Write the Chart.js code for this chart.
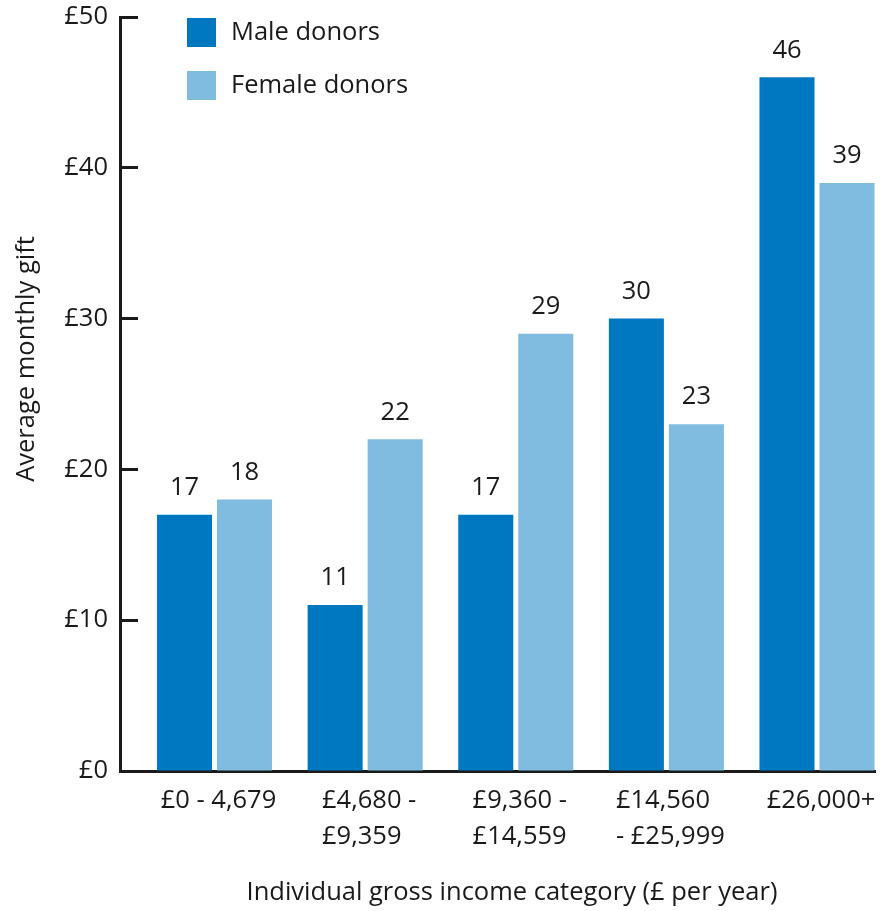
<!DOCTYPE html>
<html>
<head>
<meta charset="utf-8">
<script src="https://cdn.jsdelivr.net/npm/chart.js@4.4.0/dist/chart.umd.min.js"></script>
<style>
  html, body { margin: 0; padding: 0; background: #fff; }
  #wrap { width: 886px; height: 911px; }
</style>
</head>
<body>
<div id="wrap"><canvas id="giftChart"></canvas></div>
<script>
// income bands (one array per tick, one string per line)
const incomeBands = [
    ['£0 - 4,679'],
    ['£4,680 -', '£9,359'],
    ['£9,360 -', '£14,559'],
    ['£14,560', '- £25,999'],
    ['£26,000+']
];
const maleGift = [17, 11, 17, 30, 46];
const femaleGift = [18, 22, 29, 23, 39];
const yTicks = [0, 10, 20, 30, 40, 50];
const seriesNames = ['Male donors', 'Female donors'];
const seriesColors = ['#0078c1', '#80bbe0'];

const FONT = '"Open Sans", sans-serif';
const FONT_SIZE = 25.5;
const INK = '#1a1a1a';

// labels, legend and axis titles are painted by hand
const annotate = {
    id: 'annotate',
    afterDatasetsDraw(chart) {
        const ctx = chart.ctx;
        const xs = chart.scales.x;
        const area = chart.chartArea;
        ctx.save();
        ctx.font = `${FONT_SIZE}px ${FONT}`;
        ctx.fillStyle = INK;
        ctx.textBaseline = 'middle';

        // value above each bar
        ctx.textAlign = 'center';
        chart.data.datasets.forEach((ds, di) => {
            chart.getDatasetMeta(di).data.forEach((bar, i) => {
                ctx.fillText(String(ds.data[i].y), bar.x, bar.y - 27);
            });
        });

        // category labels: block centred under the group, lines left aligned
        ctx.textAlign = 'left';
        incomeBands.forEach((lines, i) => {
            const w = Math.max(...lines.map(l => ctx.measureText(l).width));
            const left = xs.getPixelForValue(i) + 4 - w / 2;
            lines.forEach((l, j) => ctx.fillText(l, left, area.bottom + 30 + j * 36));
        });

        // legend
        chart.data.datasets.forEach((ds, di) => {
            const y = 18 + di * 53;
            ctx.fillStyle = ds.backgroundColor;
            ctx.fillRect(187, y, 29, 29);
            ctx.fillStyle = INK;
            ctx.fillText(ds.label, 231, y + 15);
        });

        // axis titles
        ctx.textAlign = 'center';
        ctx.fillText('Individual gross income category (£ per year)', 512, 893);
        ctx.translate(27, 359);
        ctx.rotate(-Math.PI / 2);
        ctx.fillText('Average monthly gift', 0, 0);
        ctx.restore();
    }
};

const ctx = document.getElementById('giftChart').getContext('2d');

const giftChart = new Chart(ctx, {
    type: 'bar',
    data: {
        datasets: [
            {
                label: seriesNames[0],
                data: maleGift.map((v, i) => ({ x: i, y: v })),
                backgroundColor: seriesColors[0],
            },
            {
                label: seriesNames[1],
                data: femaleGift.map((v, i) => ({ x: i, y: v })),
                backgroundColor: seriesColors[1],
            }
        ]
    },
    options: {
        responsive: true,
        maintainAspectRatio: false,
        animation: false,
        layout: { padding: { top: 17, right: 11, left: 0, bottom: 0 } },
        categoryPercentage: 0.797,
        barPercentage: 0.917,
        plugins: {
            legend: { display: false },
            tooltip: { enabled: false },
        },
        scales: {
            x: {
                type: 'linear',
                offset: false,
                bounds: 'data',
                min: -0.6275,
                max: 4.385,
                ticks: { display: false },
                afterBuildTicks: scale => {
                    scale.ticks = incomeBands.map((_, i) => ({ value: i }));
                },
                afterFit: scale => {
                    scale.height = 140;
                    scale.paddingLeft = 0;
                    scale.paddingRight = 0;
                },
                grid: { display: false, offset: false },
                border: { display: true, color: INK, width: 3 },
            },
            y: {
                min: 0,
                max: 50,
                afterBuildTicks: scale => {
                    scale.ticks = yTicks.map(v => ({ value: v }));
                },
                afterFit: scale => {
                    scale.width = 120;
                    scale.paddingTop = 0;
                    scale.paddingBottom = 0;
                },
                ticks: {
                    padding: 30,
                    color: INK,
                    font: { family: FONT, size: FONT_SIZE },
                    callback: v => '£' + v,
                },
                grid: {
                    drawOnChartArea: false,
                    tickLength: -18,
                    tickWidth: 3,
                    tickColor: INK,
                },
                border: { display: true, color: INK, width: 3 },
            }
        }
    },
    plugins: [annotate]
});
</script>
</body>
</html>
